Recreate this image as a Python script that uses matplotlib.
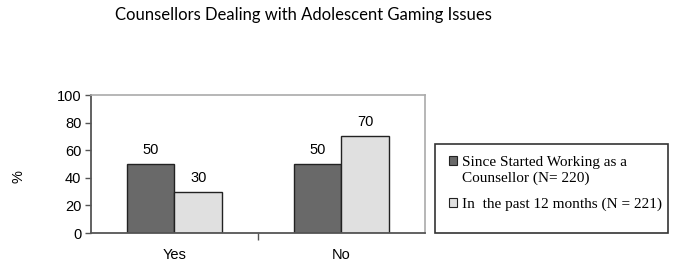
import matplotlib.pyplot as plt
from matplotlib.patches import Rectangle

categories = ["Yes", "No"]
since_started = [50, 50]
past_12_months = [30, 70]
series_labels = ["Since Started Working as a\nCounsellor (N= 220)",
                 "In  the past 12 months (N = 221)"]

fig = plt.figure(figsize=(6.76, 2.75), dpi=100)
ax = fig.add_axes([0.1346, 0.1527, 0.494, 0.5018])

w = 0.287
x = range(len(categories))
b1 = ax.bar([i - w / 2 for i in x], since_started, w, color="#696969",
            edgecolor="#222222", linewidth=1, label=series_labels[0])
b2 = ax.bar([i + w / 2 for i in x], past_12_months, w, color="#e0e0e0",
            edgecolor="#222222", linewidth=1, label=series_labels[1])

for bars in (b1, b2):
    for rect in bars:
        ax.annotate(f"{rect.get_height():.0f}",
                    (rect.get_x() + rect.get_width() / 2, rect.get_height()),
                    xytext=(0, 5), textcoords="offset points",
                    ha="center", va="bottom", fontsize=10.5,
                    family="Liberation Sans")

ax.set_xlim(-0.5, 1.5)
ax.set_ylim(0, 100)
ax.set_yticks(range(0, 101, 20))
ax.set_xticks([0, 1])
ax.set_xticklabels(categories)
ax.set_xticks([0.5], minor=True)
ax.tick_params(axis="x", which="major", length=0, pad=11)
ax.tick_params(axis="x", which="minor", length=5, width=1, color="#555555")
ax.tick_params(axis="y", length=4, width=1, color="#555555", pad=3)
for lbl in ax.get_xticklabels() + ax.get_yticklabels():
    lbl.set_family("Liberation Sans")
    lbl.set_fontsize(10.5)

for s in ("left", "bottom"):
    ax.spines[s].set_color("#555555")
    ax.spines[s].set_linewidth(1.3)
for s in ("top", "right"):
    ax.spines[s].set_color("#aaaaaa")
    ax.spines[s].set_linewidth(1.2)

ax.set_ylabel("%", family="Liberation Sans", fontsize=10.5)
ax.yaxis.set_label_coords(-0.195, 0.406)

fig.text(0.449, 0.945, "Counsellors Dealing with Adolescent Gaming Issues",
         ha="center", va="center", fontsize=12, family="Lato")

# legend frame drawn separately so it can keep the empty space at the bottom
fig.patches.append(Rectangle((435 / 676, 42 / 275), 233 / 676, 89 / 275,
                             transform=fig.transFigure, facecolor="white",
                             edgecolor="#333333", linewidth=1.2))
leg = fig.legend(handles=[b1, b2], labels=series_labels,
                 loc="upper left", bbox_to_anchor=(438 / 676, 1 - 145 / 275),
                 frameon=False, prop={"family": "Liberation Serif", "size": 11},
                 handlelength=0.55, handleheight=0.55, handletextpad=0.35,
                 labelspacing=0.85, borderpad=0.2)
leg.get_texts()[0].set_linespacing(1.25)
# put the swatch next to the first line of a wrapped label
for col in leg._legend_handle_box.get_children():
    for item in col.get_children():
        item.align = "top"
for h in leg.legend_handles:
    h.set_linewidth(0.8)

fig.savefig("out.png", dpi=100)
